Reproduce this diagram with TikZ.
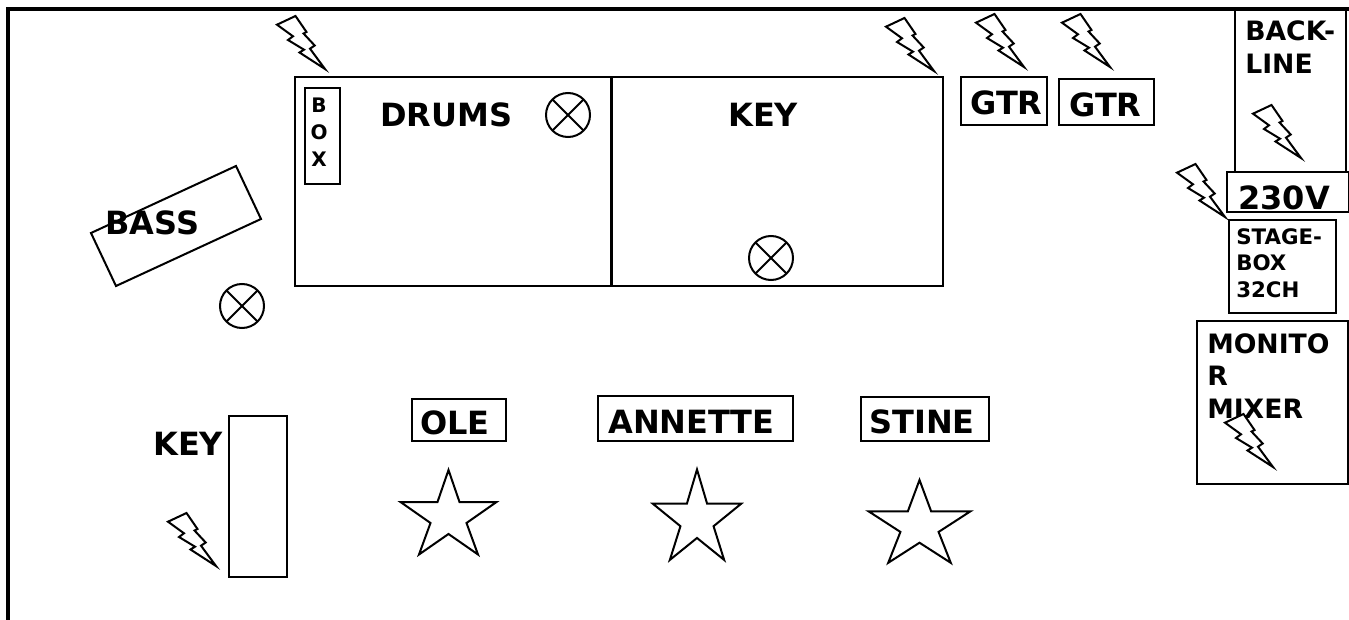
\documentclass[tikz,border=0pt]{standalone}
\usepackage{fontspec}
\setmainfont{DejaVu Sans}
\usetikzlibrary{positioning}

\begin{document}
\begin{tikzpicture}[
    x=0.75pt, y=-0.75pt,
    box/.style={draw=black, line width=1.5pt},
    lbl/.style={
        font=\fontsize{24}{30}\selectfont\bfseries,
        anchor=base west,
        inner sep=0pt
    },
    lamp/.style={
        circle,
        draw=black,
        line width=1.5pt,
        inner sep=0pt,
        minimum size=33pt,
        path picture={
            \draw[line width=1.5pt] (path picture bounding box.north west) -- (path picture bounding box.south east);
            \draw[line width=1.5pt] (path picture bounding box.north east) -- (path picture bounding box.south west);
        }
    },
    bolt/.pic={
        \draw[line width=1.5pt, miter limit=20, fill=white]
            (-3,-3) -- (-28.5,-19.5) -- (-24,-22.3) -- (-40,-32) -- (-35,-35.7) -- (-51,-47.3)
            -- (-32.5,-56) -- (-21.5,-40) -- (-24.5,-38.5) -- (-13.3,-26.5) -- (-18,-23.3) -- cycle;
    },
    stagestar/.pic={
        \draw[line width=1.5pt, miter limit=20]
            (0,-50) -- (11,-18) -- (48,-18) -- (18,3) -- (29.5,34.5) -- (0,14)
            -- (-29.5,34.5) -- (-18,3) -- (-48,-18) -- (-11,-18) -- cycle;
    }
]
\useasboundingbox (0,0) rectangle (1349,620);

% Stage outline
\draw[line width=3pt] (7.5,625) -- (7.5,9) -- (1350.5,9) -- (1350.5,625);

% Risers and boxes
\draw[box] (295,77) rectangle (611,286);
\draw[box] (612,77) rectangle (943,286);
\draw[box] (305,88) rectangle (340,184);
\draw[box] (961,77) rectangle (1047,125);
\draw[box] (1059,79) rectangle (1154,125);
\draw[box] (1235,9) rectangle (1346,172);
\draw[box] (1227,172) rectangle (1349,212);
\draw[box] (1229,220) rectangle (1336,313);
\draw[box] (1197,321) rectangle (1348,484);
\draw[box] (412,399) rectangle (506,441);
\draw[box] (598,396) rectangle (793,441);
\draw[box] (861,397) rectangle (989,441);
\draw[box] (229,416) rectangle (287,577);
\draw[box] (91,233) -- (236,166) -- (261,219) -- (116,286) -- cycle;

% Labels
\node[lbl] (drums) at (380,127) {DRUMS};
\node[lbl] (keytop) at (728,127) {KEY};
\node[lbl] (gtrone) at (970,115) {GTR};
\node[lbl] (gtrtwo) at (1069,117) {GTR};
\node[lbl] (volt) at (1238,210) {230V};
\node[lbl] (bass) at (105,235) {BASS};
\node[lbl] (keyleft) at (153,455) {KEY};
\node[lbl] (ole) at (420,434) {OLE};
\node[lbl] (annette) at (608,433) {ANNETTE};
\node[lbl] (stine) at (869,433) {STINE};
\node[lbl, font=\fontsize{15}{20}\selectfont\bfseries, align=center, anchor=north] (boxtext) at (319,98) {B\\O\\X};
\node[lbl, font=\fontsize{20}{24.75}\selectfont\bfseries, align=left, anchor=north west] (backline) at (1245,20) {BACK-\\LINE};
\node[lbl, font=\fontsize{16}{20}\selectfont\bfseries, align=left, anchor=north west] (stagebox) at (1236,228) {STAGE-\\BOX\\32CH};
\node[lbl, font=\fontsize{20}{24.5}\selectfont\bfseries, align=left, anchor=north west] (monitor) at (1207,333) {MONITO\\R\\MIXER};

% Lamps
\node[lamp] (lampdrums) at (568,115) {};
\node[lamp] (lampkey) at (771,258) {};
\node[lamp] (lampbass) at (242,306) {};

% Power points
\pic at (328,72) {bolt};
\pic at (937,74) {bolt};
\pic at (1027,70) {bolt};
\pic at (1113,70) {bolt};
\pic at (1304,161) {bolt};
\pic at (1228,220) {bolt};
\pic at (1276,470) {bolt};
\pic at (219,569) {bolt};

% Singers
\pic at (448.5,520) {stagestar};
\pic[xscale=0.92, yscale=1.07] at (697,523) {stagestar};
\pic[xscale=1.06, yscale=0.98] at (919.5,529) {stagestar};

\end{tikzpicture}
\end{document}
